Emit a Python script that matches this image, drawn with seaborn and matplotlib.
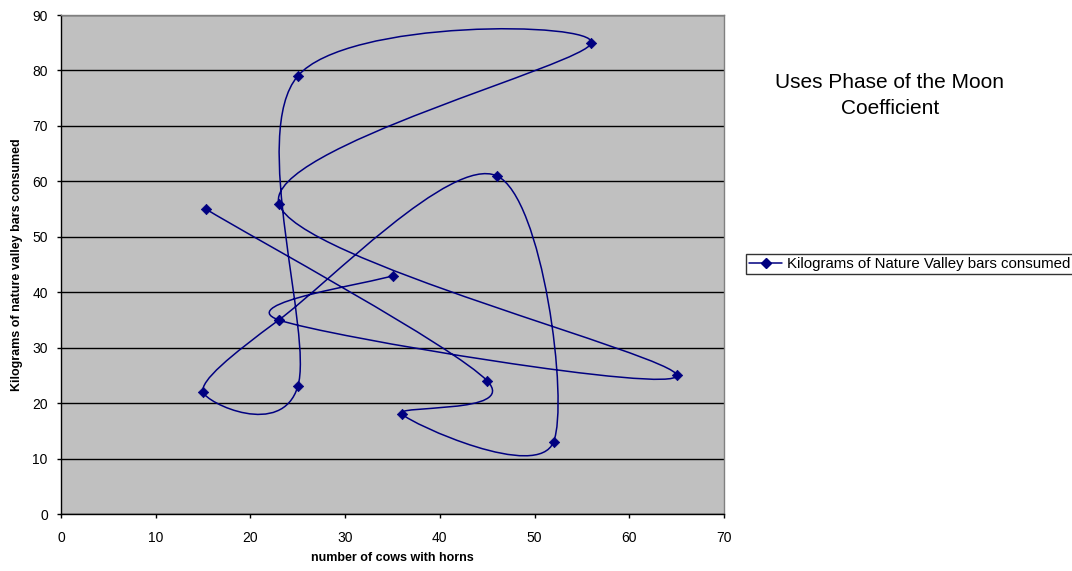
import numpy as np
import matplotlib
matplotlib.use("Agg")
import matplotlib.pyplot as plt
from matplotlib.path import Path
from matplotlib.patches import PathPatch
from matplotlib.lines import Line2D
import seaborn as sns
import pandas as pd

# data, in the order the series was entered
cows = [15.3, 45, 36, 52, 46, 23, 15, 25, 25, 56, 23, 65, 23, 35]
kilos = [55, 24, 18, 13, 61, 35, 22, 23, 79, 85, 56, 25, 35, 43]
series_name = "Kilograms of Nature Valley bars consumed"

df = pd.DataFrame({"cows": cows, "kilos": kilos})

sns.set_style("white")
plt.rcParams['font.family'] = ['Liberation Sans', 'DejaVu Sans']
plt.rcParams['text.color'] = 'black'
plt.rcParams['axes.labelcolor'] = 'black'

navy = "#000080"

fig = plt.figure(figsize=(10.72, 5.71), dpi=100)
ax = fig.add_axes([0.0569, 0.0998, 0.6185, 0.8739])
ax.set_facecolor("#C0C0C0")

# Excel style smoothed line (Catmull-Rom as cubic beziers)
pts = df[["cows", "kilos"]].to_numpy(dtype=float)
n = len(pts)
verts = [pts[0]]
codes = [Path.MOVETO]
for i in range(n - 1):
    p0 = pts[max(i - 1, 0)]
    p1 = pts[i]
    p2 = pts[i + 1]
    p3 = pts[min(i + 2, n - 1)]
    verts += [p1 + (p2 - p0) / 6, p2 - (p3 - p1) / 6, p2]
    codes += [Path.CURVE4] * 3
ax.add_patch(PathPatch(Path(verts, codes), facecolor="none", edgecolor=navy, lw=1.1, zorder=3))

sns.scatterplot(data=df, x="cows", y="kilos", marker="D", s=28, color=navy,
                edgecolor=navy, linewidth=0.5, ax=ax, zorder=4, legend=False)

ax.set_xlim(0, 70)
ax.set_ylim(0, 90)
ax.set_xticks(range(0, 71, 10))
ax.set_yticks(range(0, 91, 10))
ax.yaxis.grid(True, color="black", lw=1)
ax.xaxis.grid(False)
ax.set_axisbelow(True)
ax.tick_params(axis="both", labelsize=10, length=3, width=1, direction="out",
               colors="black", labelcolor="black")
ax.tick_params(axis="x", pad=9)
ax.tick_params(axis="y", pad=6.5)
ax.xaxis.set_ticks_position("bottom")
ax.yaxis.set_ticks_position("left")
for side in ["left", "bottom"]:
    ax.spines[side].set_color("black")
    ax.spines[side].set_linewidth(1)
for side in ["top", "right"]:
    ax.spines[side].set_color("#808080")
    ax.spines[side].set_linewidth(1)

ax.set_xlabel("number of cows with horns", fontsize=9, fontweight="bold", labelpad=5.5)
ax.set_ylabel("Kilograms of nature valley bars consumed", fontsize=9, fontweight="bold", labelpad=6.5)

fig.text(0.830, 0.833, "Uses Phase of the Moon\nCoefficient", ha="center", va="center",
         fontsize=15, linespacing=1.45, color="black")

handle = Line2D([], [], color=navy, lw=1.1, marker="D", markersize=5)
leg = fig.legend([handle], [series_name], loc="center left", bbox_to_anchor=(0.696, 0.5377),
                 fontsize=10.8, frameon=True, fancybox=False, handlelength=2.2,
                 borderpad=0.2, handletextpad=0.3, borderaxespad=0)
leg.get_frame().set_edgecolor("black")
leg.get_frame().set_linewidth(1)

fig.savefig("out.png", dpi=100)
